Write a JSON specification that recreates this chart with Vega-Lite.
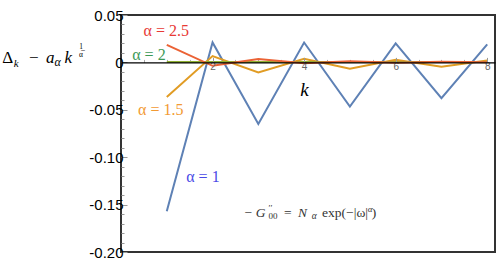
{
  "$schema": "https://vega.github.io/schema/vega-lite/v6.json",
  "width": 374,
  "height": 237,
  "autosize": "none",
  "padding": {"left": 121, "top": 15, "right": 3, "bottom": 19},
  "background": "white",
  "config": {
    "view": {"stroke": "#333", "strokeWidth": 2},
    "axis": {"labelFont": "Liberation Sans", "titleFont": "Liberation Serif", "grid": false, "titleFontWeight": "normal", "titleColor": "#000"}
  },
  "datasets": {
    "lines": [
      {"k": 1, "v": -0.157, "a": "1"}, {"k": 2, "v": 0.021, "a": "1"}, {"k": 3, "v": -0.065, "a": "1"}, {"k": 4, "v": 0.021, "a": "1"},
      {"k": 5, "v": -0.0465, "a": "1"}, {"k": 6, "v": 0.020, "a": "1"}, {"k": 7, "v": -0.0377, "a": "1"}, {"k": 8, "v": 0.019, "a": "1"},
      {"k": 1, "v": -0.0366, "a": "1.5"}, {"k": 2, "v": 0.0067, "a": "1.5"}, {"k": 3, "v": -0.0106, "a": "1.5"}, {"k": 4, "v": 0.0038, "a": "1.5"},
      {"k": 5, "v": -0.0068, "a": "1.5"}, {"k": 6, "v": 0.0028, "a": "1.5"}, {"k": 7, "v": -0.0047, "a": "1.5"}, {"k": 8, "v": 0.0021, "a": "1.5"},
      {"k": 1, "v": 0.0003, "a": "2"}, {"k": 2, "v": 0.0003, "a": "2"}, {"k": 3, "v": 0.0003, "a": "2"}, {"k": 4, "v": 0.0003, "a": "2"},
      {"k": 5, "v": 0.0003, "a": "2"}, {"k": 6, "v": 0.0003, "a": "2"}, {"k": 7, "v": 0.0003, "a": "2"}, {"k": 8, "v": 0.0003, "a": "2"},
      {"k": 1, "v": 0.0184, "a": "2.5"}, {"k": 2, "v": -0.0036, "a": "2.5"}, {"k": 3, "v": 0.0035, "a": "2.5"}, {"k": 4, "v": -0.0008, "a": "2.5"},
      {"k": 5, "v": 0.0012, "a": "2.5"}, {"k": 6, "v": -0.0003, "a": "2.5"}, {"k": 7, "v": 0.0006, "a": "2.5"}, {"k": 8, "v": 0.0001, "a": "2.5"}
    ],
    "labels": [
      {"k": 0.99, "v": 0.028, "t": "α = 2.5", "s": "2.5"},
      {"k": 0.61, "v": 0.0024, "t": "α = 2", "s": "2"},
      {"k": 0.87, "v": -0.0553, "t": "α = 1.5", "s": "1.5"},
      {"k": 1.79, "v": -0.1263, "t": "α = 1", "s": "1"}
    ],
    "formula": [
      {"k": 2.696, "v": -0.1635}
    ]
  },
  "layer": [
    {
      "data": {"name": "lines"},
      "mark": {"type": "point", "opacity": 0},
      "encoding": {
        "x": {"field": "k", "type": "quantitative", "scale": {"domain": [0, 8.17], "nice": false, "zero": false},
          "axis": {"orient": "bottom", "offset": -189.6, "values": [0.5, 1, 1.5, 2.5, 3, 3.5, 4.5, 5, 5.5, 6.5, 7, 7.5],
            "labels": false, "domain": false, "tickSize": -3, "tickColor": "#aaa", "title": null}},
        "y": {"field": "v", "type": "quantitative", "scale": {"domain": [-0.2, 0.05], "nice": false},
          "axis": {"orient": "left", "values": [-0.19, -0.18, -0.17, -0.16, -0.14, -0.13, -0.12, -0.11, -0.09, -0.08, -0.07, -0.06, -0.04, -0.03, -0.02, -0.01, 0.01, 0.02, 0.03, 0.04],
            "labels": false, "domain": false, "tickSize": -3, "tickColor": "#999", "title": null}}
      }
    },
    {
      "data": {"name": "lines"},
      "mark": {"type": "line", "strokeWidth": 2, "clip": true},
      "encoding": {
        "x": {"field": "k", "type": "quantitative",
          "axis": {"orient": "bottom", "offset": -189.6, "values": [2, 4, 6, 8], "domainColor": "#000", "domainWidth": 1.2,
            "tickColor": "#999", "tickSize": -5, "labelColor": "#666", "labelFontSize": 10, "labelPadding": 4,
            "title": "k", "titleFont": "Liberation Serif", "titleFontStyle": "italic", "titleFontSize": 19,
            "titleX": 183, "titleY": 32.7, "titleAlign": "center", "titleBaseline": "alphabetic", "zindex": 1}},
        "y": {"field": "v", "type": "quantitative",
          "axis": {"orient": "left", "values": [-0.2, -0.15, -0.1, -0.05, 0, 0.05], "domain": false, "tickSize": -6, "tickColor": "#999",
            "labelExpr": "datum.value == 0 ? '0' : replace(format(datum.value, '.2f'), '−', '-')",
            "labelFontSize": 15, "labelColor": "#000", "labelPadding": 4,
            "title": "Δ", "titleAngle": 0, "titleX": -119.3, "titleY": 47.3, "titleAlign": "left", "titleBaseline": "alphabetic",
            "titleFontSize": 17}},
        "color": {"field": "a", "type": "nominal", "scale": {"domain": ["1", "1.5", "2", "2.5"], "range": ["#5E81B5", "#E19C24", "#8FB032", "#EB6235"]}, "legend": null}
      }
    },
    {
      "data": {"name": "formula"}, "mark": {"type": "point", "opacity": 0},
      "encoding": {"x": {"field": "k", "type": "quantitative", "axis": null},
        "y": {"field": "v", "type": "quantitative", "axis": {"orient": "left", "values": [], "domain": false, "ticks": false, "labels": false,
          "title": "k", "titleAngle": 0, "titleX": -107.7, "titleY": 51.7, "titleAlign": "left", "titleBaseline": "alphabetic", "titleFontSize": 11, "titleFontStyle": "italic"}}}
    },
    {
      "data": {"name": "formula"}, "mark": {"type": "point", "opacity": 0},
      "encoding": {"x": {"field": "k", "type": "quantitative", "axis": null},
        "y": {"field": "v", "type": "quantitative", "axis": {"orient": "left", "values": [], "domain": false, "ticks": false, "labels": false,
          "title": "−", "titleAngle": 0, "titleX": -92.5, "titleY": 47.3, "titleAlign": "left", "titleBaseline": "alphabetic", "titleFontSize": 17}}}
    },
    {
      "data": {"name": "formula"}, "mark": {"type": "point", "opacity": 0},
      "encoding": {"x": {"field": "k", "type": "quantitative", "axis": null},
        "y": {"field": "v", "type": "quantitative", "axis": {"orient": "left", "values": [], "domain": false, "ticks": false, "labels": false,
          "title": "a", "titleAngle": 0, "titleX": -75.5, "titleY": 47.3, "titleAlign": "left", "titleBaseline": "alphabetic", "titleFontSize": 17, "titleFontStyle": "italic"}}}
    },
    {
      "data": {"name": "formula"}, "mark": {"type": "point", "opacity": 0},
      "encoding": {"x": {"field": "k", "type": "quantitative", "axis": null},
        "y": {"field": "v", "type": "quantitative", "axis": {"orient": "left", "values": [], "domain": false, "ticks": false, "labels": false,
          "title": "α", "titleAngle": 0, "titleX": -67, "titleY": 50.7, "titleAlign": "left", "titleBaseline": "alphabetic", "titleFontSize": 12, "titleFontStyle": "italic"}}}
    },
    {
      "data": {"name": "formula"}, "mark": {"type": "point", "opacity": 0},
      "encoding": {"x": {"field": "k", "type": "quantitative", "axis": null},
        "y": {"field": "v", "type": "quantitative", "axis": {"orient": "left", "values": [], "domain": false, "ticks": false, "labels": false,
          "title": "k", "titleAngle": 0, "titleX": -57, "titleY": 47.3, "titleAlign": "left", "titleBaseline": "alphabetic", "titleFontSize": 17, "titleFontStyle": "italic"}}}
    },
    {
      "data": {"name": "formula"}, "mark": {"type": "point", "opacity": 0},
      "encoding": {"x": {"field": "k", "type": "quantitative", "axis": null},
        "y": {"field": "v", "type": "quantitative", "axis": {"orient": "left", "values": [], "domain": false, "ticks": false, "labels": false,
          "title": ["1", "α̅"], "titleLineHeight": 8, "titleAngle": 0, "titleX": -40.5, "titleY": 33.5, "titleAlign": "center", "titleBaseline": "alphabetic", "titleFontSize": 7.5}}}
    },
    {
      "data": {"name": "labels"},
      "mark": {"type": "text", "font": "Liberation Serif", "fontSize": 16, "align": "center", "baseline": "alphabetic"},
      "encoding": {
        "x": {"field": "k", "type": "quantitative", "axis": null},
        "y": {"field": "v", "type": "quantitative", "axis": null},
        "text": {"field": "t"},
        "color": {"field": "s", "type": "nominal", "scale": {"domain": ["1", "1.5", "2", "2.5"], "range": ["#4a4ae6", "#f29a33", "#3d9a58", "#e83a35"]}, "legend": null}
      }
    },
    {
      "data": {"name": "formula"},
      "mark": {"type": "text", "font": "Liberation Serif", "fontSize": 13.5, "align": "left", "baseline": "alphabetic", "color": "#333", "text": "−", "dx": 0},
      "encoding": {"x": {"field": "k", "type": "quantitative", "axis": null}, "y": {"field": "v", "type": "quantitative", "axis": null}}
    },
    {
      "data": {"name": "formula"},
      "mark": {"type": "text", "font": "Liberation Serif", "fontSize": 13.5, "fontStyle": "italic", "align": "left", "baseline": "alphabetic", "color": "#333", "text": "G", "dx": 11.4},
      "encoding": {"x": {"field": "k", "type": "quantitative", "axis": null}, "y": {"field": "v", "type": "quantitative", "axis": null}}
    },
    {
      "data": {"name": "formula"},
      "mark": {"type": "text", "font": "Liberation Serif", "fontSize": 9, "align": "left", "baseline": "alphabetic", "color": "#333", "text": ["′′", "00"], "lineHeight": 8.5, "dx": 24, "dy": -6.5},
      "encoding": {"x": {"field": "k", "type": "quantitative", "axis": null}, "y": {"field": "v", "type": "quantitative", "axis": null}}
    },
    {
      "data": {"name": "formula"},
      "mark": {"type": "text", "font": "Liberation Serif", "fontSize": 13.5, "align": "left", "baseline": "alphabetic", "color": "#333", "text": "=", "dx": 39.7},
      "encoding": {"x": {"field": "k", "type": "quantitative", "axis": null}, "y": {"field": "v", "type": "quantitative", "axis": null}}
    },
    {
      "data": {"name": "formula"},
      "mark": {"type": "text", "font": "Liberation Serif", "fontSize": 13.5, "fontStyle": "italic", "align": "left", "baseline": "alphabetic", "color": "#333", "text": "N", "dx": 53.7},
      "encoding": {"x": {"field": "k", "type": "quantitative", "axis": null}, "y": {"field": "v", "type": "quantitative", "axis": null}}
    },
    {
      "data": {"name": "formula"},
      "mark": {"type": "text", "font": "Liberation Serif", "fontSize": 9.5, "fontStyle": "italic", "align": "left", "baseline": "alphabetic", "color": "#333", "text": "α", "dx": 67.4, "dy": 2},
      "encoding": {"x": {"field": "k", "type": "quantitative", "axis": null}, "y": {"field": "v", "type": "quantitative", "axis": null}}
    },
    {
      "data": {"name": "formula"},
      "mark": {"type": "text", "font": "Liberation Serif", "fontSize": 13.5, "align": "left", "baseline": "alphabetic", "color": "#333", "text": "exp(−|ω|", "dx": 77.7},
      "encoding": {"x": {"field": "k", "type": "quantitative", "axis": null}, "y": {"field": "v", "type": "quantitative", "axis": null}}
    },
    {
      "data": {"name": "formula"},
      "mark": {"type": "text", "font": "Liberation Serif", "fontSize": 9, "fontStyle": "italic", "align": "left", "baseline": "alphabetic", "color": "#333", "text": "α", "dx": 123.4, "dy": -5.5},
      "encoding": {"x": {"field": "k", "type": "quantitative", "axis": null}, "y": {"field": "v", "type": "quantitative", "axis": null}}
    },
    {
      "data": {"name": "formula"},
      "mark": {"type": "text", "font": "Liberation Serif", "fontSize": 13.5, "align": "left", "baseline": "alphabetic", "color": "#333", "text": ")", "dx": 127.4},
      "encoding": {"x": {"field": "k", "type": "quantitative", "axis": null}, "y": {"field": "v", "type": "quantitative", "axis": null}}
    }
  ],
  "resolve": {"axis": {"x": "independent", "y": "independent"}, "scale": {"color": "independent"}}
}
